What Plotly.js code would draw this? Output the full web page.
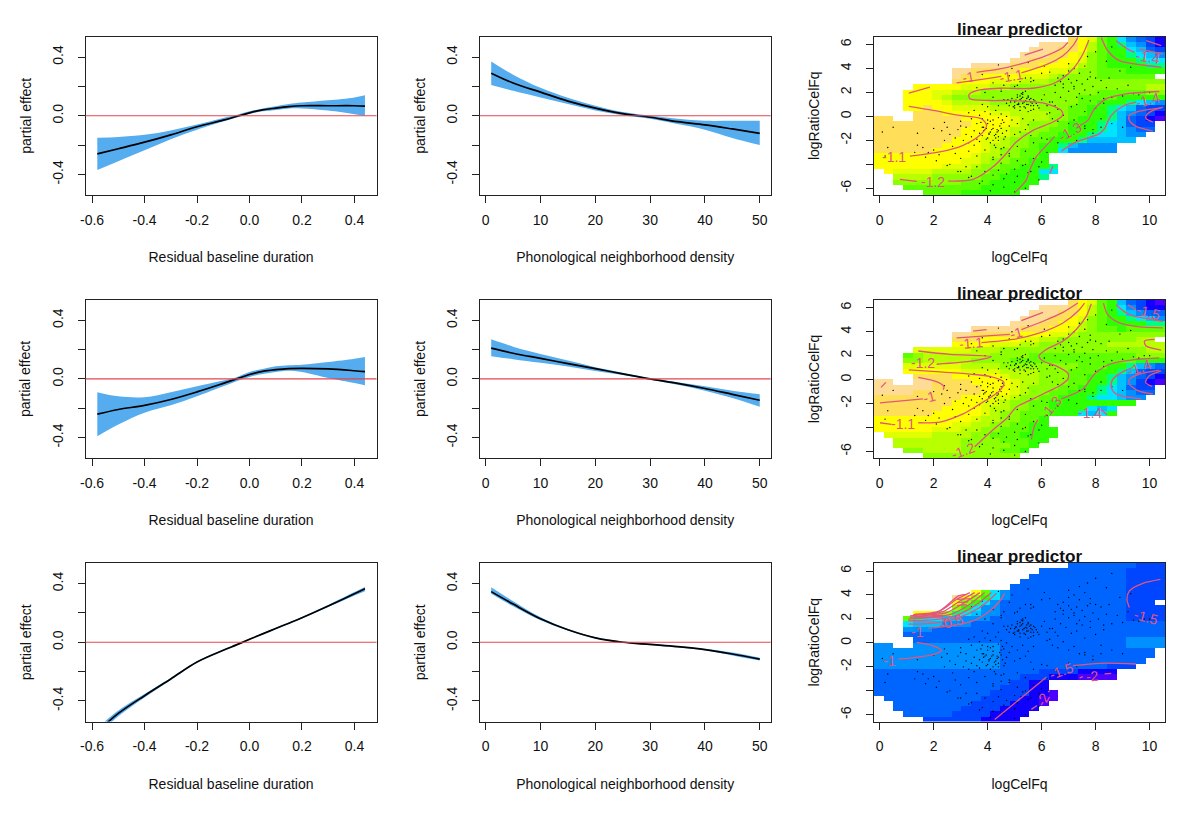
<!DOCTYPE html>
<html>
<head>
<meta charset="utf-8">
<script src="https://cdn.plot.ly/plotly-3.0.1.min.js"></script>
<style>html,body{margin:0;padding:0;background:#fff}</style>
</head>
<body>
<div id="graph" style="width:1200px;height:815px"></div>
<script>
// left column, residual baseline duration
var durX = [-0.58,-0.5,-0.4,-0.3,-0.2,-0.1,-0.05,0,0.05,0.1,0.15,0.2,0.3,0.4,0.44];
var dur1Fit = [-0.26,-0.225,-0.18,-0.13,-0.075,-0.03,-0.005,0.02,0.04,0.052,0.062,0.068,0.068,0.068,0.065];
var dur1Up = [-0.15,-0.145,-0.13,-0.10,-0.06,-0.015,0.005,0.03,0.05,0.065,0.08,0.09,0.105,0.125,0.14];
var dur1Lo = [-0.37,-0.31,-0.235,-0.16,-0.095,-0.04,-0.012,0.012,0.03,0.04,0.05,0.05,0.035,0.01,0.0];
var dur2Fit = [-0.24,-0.208,-0.18,-0.14,-0.088,-0.03,0,0.03,0.052,0.063,0.07,0.072,0.068,0.056,0.05];
var dur2Up = [-0.09,-0.118,-0.124,-0.09,-0.05,-0.01,0.012,0.048,0.068,0.086,0.093,0.097,0.115,0.138,0.149];
var dur2Lo = [-0.39,-0.31,-0.23,-0.18,-0.118,-0.05,-0.015,0.014,0.034,0.048,0.056,0.048,0.007,-0.027,-0.043];
var dur3Fit = [-0.61,-0.485,-0.364,-0.25,-0.135,-0.055,-0.018,0.02,0.057,0.094,0.13,0.167,0.247,0.33,0.364];
var dur3Up = [-0.585,-0.465,-0.352,-0.243,-0.13,-0.05,-0.014,0.024,0.062,0.099,0.135,0.172,0.254,0.342,0.377];
var dur3Lo = [-0.635,-0.505,-0.376,-0.257,-0.14,-0.06,-0.022,0.016,0.052,0.089,0.125,0.162,0.24,0.318,0.348];

// middle column, phonological neighborhood density
var densX = [1,5,10,15,20,25,30,35,40,45,50];
var dens1Fit = [0.29,0.223,0.161,0.1,0.052,0.014,-0.01,-0.04,-0.062,-0.09,-0.12];
var dens1Up = [0.37,0.28,0.19,0.122,0.068,0.025,0,-0.02,-0.034,-0.034,-0.034];
var dens1Lo = [0.21,0.17,0.125,0.08,0.036,0.004,-0.02,-0.057,-0.095,-0.152,-0.2];
var dens2Fit = [0.21,0.175,0.14,0.105,0.07,0.035,0,-0.03,-0.065,-0.105,-0.145];
var dens2Up = [0.27,0.22,0.17,0.125,0.08,0.042,0.005,-0.022,-0.05,-0.08,-0.105];
var dens2Lo = [0.155,0.135,0.11,0.085,0.055,0.027,-0.005,-0.04,-0.08,-0.13,-0.19];
var dens3Fit = [0.345,0.26,0.16,0.085,0.03,0,-0.015,-0.03,-0.05,-0.08,-0.115];
var dens3Up = [0.375,0.28,0.17,0.09,0.035,0.005,-0.01,-0.025,-0.045,-0.07,-0.105];
var dens3Lo = [0.33,0.245,0.15,0.08,0.025,-0.003,-0.02,-0.035,-0.055,-0.09,-0.125];

// right column: colour level of each surface cell, top row first
var levelColors = ['#4C00FF','#1000FF','#0045FF','#0064FF','#0090FF','#00C0FF','#00E5FF','#00FF80','#30FF00','#60FF00','#8CFF00','#B8FF00','#E0FF00','#FFFF00','#FFDE59','#FFDC96'];
var heatStart = [20,17,16,15,14,10,8,8,8,4,3,3,3,3,4,0,0,0,0,0,0,0,0,0,0,1,2,2,3,5];
var heat1 = [
[14,13,12,9,8,6,4,3,2,1],
[15,15,15,14,13,11,9,8,7,5,4,2,1],
[15,15,15,14,14,13,11,9,8,8,6,5,3,2],
[15,15,15,14,14,13,12,10,9,8,8,7,6,5,4],
[15,15,14,14,14,13,13,12,10,9,8,8,8,7,6,6],
[15,15,15,15,14,14,14,13,13,13,12,11,10,9,8,8,8,8,7,7],
[15,15,14,14,14,14,14,13,13,13,12,12,11,10,10,9,9,9,8,8,8,8],
[15,14,14,13,13,13,13,12,12,12,11,10,10,10,10,9,9,9,9,9,9],
[14,13,13,13,12,12,12,11,11,11,10,10,10,10,10,10,10,10,10,10,10,10],
[13,13,13,13,13,12,12,12,11,11,10,10,10,10,10,10,10,10,10,10,10,10,10,10,11,11],
[13,13,13,12,12,11,11,11,10,10,10,10,10,10,10,10,10,10,10,10,9,9,9,9,9,10,10],
[13,13,13,12,11,10,10,10,10,10,10,10,10,10,10,10,10,10,9,9,9,9,8,8,8,8,8],
[13,13,13,13,12,11,11,11,11,10,10,10,10,10,10,10,10,10,9,9,8,8,8,7,6,5,4],
[13,13,14,13,13,12,12,12,12,11,11,11,11,11,10,10,10,9,9,8,8,7,6,5,3,2,2],
[14,14,14,13,13,13,13,13,12,12,11,11,11,11,10,10,9,9,8,8,7,5,4,3,2,1],
[14,14,null,null,14,14,14,14,14,13,13,13,13,13,12,11,11,11,10,10,9,8,8,8,7,5,3,2,1,0],
[14,14,14,14,14,14,14,14,14,14,13,13,13,13,12,11,10,10,10,9,8,8,8,7,6,5,3,2,2],
[14,14,14,14,14,14,14,14,14,13,13,13,13,12,11,11,10,10,9,9,8,8,8,7,6,5,4,3,3],
[14,14,14,14,14,14,14,14,14,13,13,13,12,12,11,10,10,9,9,8,8,8,7,6,6,5,4,4],
[14,14,14,14,14,14,14,14,13,13,13,12,12,11,10,10,9,9,8,8,8,7,5,5,5,5,5],
[14,14,14,14,14,14,14,13,13,13,13,12,11,11,10,10,9,8,8,7,5,4,4,4,4],
[14,14,14,14,14,14,13,13,13,13,13,12,11,10,10,9,9,8,8,6,4,4,4,4,4],
[13,13,13,13,13,13,13,13,13,13,12,11,11,10,10,9,9,8],
[13,13,13,13,13,13,13,13,13,12,12,11,10,10,9,9,8,8],
[13,13,13,13,13,13,13,12,12,12,11,10,10,9,9,8,8,8,7],
[13,12,12,12,12,11,11,11,11,10,10,9,9,8,8,8,6,6],
[11,11,11,11,10,10,10,10,10,9,9,8,8,8,8,7],
[10,10,10,10,10,10,10,9,9,9,8,8,8,8,8],
[9,9,9,9,9,9,9,9,8,8,8,8,8],
[9,9,9,9,8,8,8,8,8,8]];
var heat2 = [
[14,13,12,9,8,5,3,2,1,0],
[15,15,15,14,13,11,9,8,6,4,2,1,1],
[15,15,15,14,14,13,11,9,8,7,5,4,3,3],
[15,15,15,14,14,13,12,10,9,8,8,7,6,5,4],
[15,15,15,14,14,13,13,11,10,9,8,8,8,8,7,7],
[15,15,15,15,15,14,14,14,13,13,12,11,10,9,9,8,9,9,9,9],
[15,15,14,14,14,14,14,13,13,13,12,12,11,10,10,10,10,10,10,10,10,10],
[14,14,14,13,13,13,13,12,12,11,11,10,10,10,10,10,10,10,10,11,11],
[13,13,13,13,12,12,12,11,11,10,10,10,10,10,10,10,11,11,11,11,11,11],
[12,12,12,12,12,12,11,11,11,10,10,10,10,10,10,10,10,10,10,10,10,10,10,10,11,11],
[9,10,11,11,11,11,11,11,11,10,10,10,10,9,9,9,9,9,9,9,9,9,9,9,10,10,10],
[10,10,11,11,11,11,11,10,10,10,10,9,9,9,9,9,9,9,9,9,9,9,9,9,8,8,8],
[12,12,12,12,12,12,11,11,11,11,10,10,10,10,10,10,10,10,9,9,9,8,8,7,5,4,3],
[13,13,13,13,13,13,12,12,12,12,11,11,11,11,10,10,10,9,9,9,8,8,7,5,3,2,2],
[14,14,14,14,13,13,13,13,13,12,11,11,11,10,10,10,9,9,8,8,7,5,4,3,2,1],
[15,15,null,null,15,15,14,14,14,14,13,13,13,13,12,11,11,10,10,10,9,9,8,8,7,5,4,2,1,0],
[15,15,15,15,15,15,14,14,14,14,14,13,13,13,12,11,10,10,10,9,9,8,8,7,6,5,3,2,2],
[15,15,15,15,14,14,14,14,14,14,14,13,13,13,12,11,10,10,9,9,8,8,8,7,6,5,4,3,3],
[14,14,14,14,14,14,14,14,14,13,13,13,12,12,11,10,10,9,9,8,8,8,7,6,6,5,4,4],
[14,14,14,14,14,14,14,14,13,13,13,12,12,11,10,10,9,9,8,8,8,8,8,8,8,8,8],
[14,14,14,14,14,14,14,13,13,13,13,12,11,11,10,10,9,9,8,8,8,8,6,5,6],
[14,14,14,14,14,14,13,13,13,13,13,12,11,10,10,9,9,9,8,8,8,6,5,6,8],
[13,13,13,13,13,13,13,13,13,13,12,11,11,10,10,9,9,8],
[13,13,13,13,13,13,13,13,12,12,11,11,10,10,9,9,8,8],
[13,13,13,13,13,13,12,12,12,11,11,10,10,9,9,9,8,8,8],
[12,12,12,12,12,11,11,11,11,10,10,9,9,9,8,8,8,8],
[11,11,11,11,11,11,11,10,10,10,10,9,9,9,8,8],
[11,11,11,11,11,11,11,10,10,10,10,10,9,9,8],
[10,10,11,11,11,11,10,10,10,10,9,9,8],
[10,10,10,10,10,10,10,10,10,10]];
var heat3 = [
[3,3,3,3,3,3,3,2,2,2],
[3,3,3,3,3,3,3,3,3,2,2,2,2],
[3,3,3,3,3,3,3,3,3,3,2,2,2,2],
[3,3,3,3,3,3,3,3,3,3,3,2,2,2,2],
[3,3,3,3,3,3,3,3,3,3,3,3,2,2,2,2],
[13,9,6,4,3,3,3,3,3,3,3,3,3,3,3,3,2,2,2,2],
[15,13,10,8,6,4,3,3,3,3,3,3,3,3,3,3,3,3,2,2,2,2],
[13,10,8,6,4,3,3,3,3,3,3,3,3,3,3,3,3,3,2,2,2],
[10,8,6,4,4,3,3,3,3,3,3,3,3,3,3,3,3,3,2,2,2,2],
[13,13,12,10,7,6,5,4,4,3,3,3,3,3,3,3,3,3,3,3,3,3,2,2,2,2],
[9,7,6,6,5,5,4,4,4,3,3,3,3,3,3,3,3,3,3,3,3,3,3,2,2,2,2],
[6,5,5,5,4,4,4,3,3,3,3,3,3,3,3,3,3,3,3,3,3,3,3,3,3,3,3],
[4,4,4,3,3,3,3,3,3,3,3,3,3,3,3,3,3,3,3,3,3,3,3,3,3,3,3],
[3,3,3,3,3,3,3,3,3,3,3,3,3,3,3,3,3,3,3,3,3,3,3,3,3,3,3],
[3,3,3,3,3,3,3,3,3,3,3,3,3,3,3,3,3,3,3,3,3,3,4,4,4,4],
[4,4,null,null,4,4,4,4,4,4,4,4,4,3,3,3,3,3,3,3,3,3,3,3,3,3,4,4,4,4],
[4,4,4,4,4,4,4,4,4,4,4,4,4,3,3,3,3,3,3,3,3,3,3,3,3,3,3,3,3],
[4,4,4,4,4,4,4,4,4,4,4,4,4,3,3,3,3,3,3,3,3,3,3,3,3,3,3,3,3],
[4,4,4,4,4,4,4,4,4,4,4,4,4,3,3,3,3,3,3,3,3,3,3,3,3,3,3,3],
[4,4,4,4,4,4,4,4,4,4,4,4,4,3,3,3,3,3,3,3,3,3,3,3,2,2,2],
[3,3,3,3,3,3,3,3,3,3,3,3,3,3,3,3,3,2,2,2,2,1,1,1,1],
[3,3,3,3,3,3,3,3,3,3,3,3,3,3,3,2,2,2,1,1,1,0,0,0,0],
[3,3,3,3,3,3,3,3,3,3,3,3,3,3,2,2,1,1],
[3,3,3,3,3,3,3,3,3,3,3,3,3,2,2,2,1,1],
[3,3,3,3,3,3,3,3,3,3,3,3,2,2,2,2,1,1,0],
[3,3,3,3,3,3,3,3,3,3,2,2,2,2,1,1,0,0],
[3,3,3,3,3,3,3,3,2,2,2,2,1,1,1,0],
[3,3,3,3,3,3,3,2,2,2,2,1,1,1,1],
[3,3,3,3,3,2,2,2,2,1,1,1,1],
[2,2,2,2,2,2,1,1,1,1]];

// data points on the surfaces
var dotX = [5.0,5.1,5.2,5.3,5.4,5.5,5.6,5.7,5.2,5.3,5.4,5.5,4.9,5.0,5.1,5.6,5.8,6.0,4.7,4.8,5.3,5.4,5.2,5.5,5.7,5.9,4.6,4.4,4.2,4.5,6.2,6.4,6.6,6.1,6.3,6.5,
3.4,3.6,3.8,4.0,4.2,4.4,4.6,4.8,3.5,3.7,3.9,4.1,4.3,4.5,4.7,3.2,3.4,3.6,3.8,4.0,4.2,4.4,4.6,3.0,3.3,3.5,3.7,3.9,4.1,4.3,4.5,4.7,4.9,5.1,5.3,5.5,5.7,5.0,5.2,5.4,5.6,
2.3,2.5,2.6,2.8,2.9,3.0,3.1,3.2,3.3,3.5,2.4,2.7,1.6,1.8,2.0,2.2,2.8,3.0,3.3,3.6,3.9,4.2,4.5,4.8,5.1,5.4,5.7,6.0,
7.0,7.2,7.4,7.6,7.8,8.0,8.2,7.1,7.3,7.5,7.7,7.9,6.8,7.0,7.2,7.4,7.6,7.8,6.6,6.8,7.0,7.3,7.5,7.8,8.1,8.4,6.5,6.7,7.0,7.4,7.7,8.0,
6.2,6.4,6.6,6.8,7.0,7.2,7.4,6.3,6.5,6.7,6.9,7.1,7.3,7.6,8.0,8.3,8.6,9.0,9.4,9.8,8.5,8.9,9.3,7.6,7.9,8.6,8.4,8.2,
4.2,4.5,4.8,5.1,5.4,5.7,6.0,5.0,5.3,5.6,5.9,6.2,4.4,4.7,5.1,5.5,5.9,3.6,3.9,4.2,4.6,5.0,5.4,2.6,3.0,3.4,3.8,4.2,4.6,5.0,
1.3,1.7,2.1,2.5,2.9,3.3,3.7,4.1,4.5,1.4,1.4,2.0,2.4,3.2,4.3,4.0,3.8,4.6,5.2,5.6,0.1,0.3,0.2,0.5,
6.2,6.6,7.0,7.3,7.6,7.9,8.2,8.6,9.0,6.8,7.2,7.8,8.3,8.8,9.2,9.6,10.0,
3.6,3.9,4.2,4.5,4.8,5.1,5.4,5.7,6.0,6.3,3.4,3.8,4.4,4.9,5.5,6.1,5.0,5.6,
5.05,5.15,5.25,5.35,5.45,5.55,5.65,5.0,5.1,5.2,5.35,5.45,5.6,5.75,4.85,4.95,5.15,5.25,5.5,5.7,5.85,4.75,5.05,5.3,5.45,5.6,
3.85,3.95,4.05,4.15,4.25,4.35,4.45,4.55,3.75,3.85,4.0,4.1,4.2,4.35,4.5,4.65,3.95,4.05,4.2,4.3,4.4,4.55,3.7,3.8,4.1,4.25,4.4,4.6];
var dotY = [1.2,1.0,1.4,1.1,1.3,1.0,1.2,0.9,0.8,1.6,0.7,1.7,1.5,0.7,1.8,1.5,1.1,1.4,1.1,0.9,2.0,2.1,0.5,0.4,0.6,0.7,1.4,0.9,1.6,2.1,0.9,1.2,0.6,1.8,0.3,2.0,
-0.2,-0.6,-0.9,-0.3,-0.7,-0.1,-0.5,-0.8,-1.2,-1.4,-1.1,-1.3,-1.5,-1.0,-1.2,-0.9,-1.7,-1.9,-1.6,-1.8,-2.0,-1.7,-1.9,-0.4,0.3,0.5,0.1,0.4,0.2,0.5,0.2,0.0,-0.3,-0.6,-0.2,-0.7,-0.3,-1.5,-1.3,-1.1,-1.6,
-1.2,-0.9,-1.5,-1.8,-1.1,-0.8,-2.0,-1.5,-2.2,-2.4,-2.0,-2.5,-2.6,-3.0,-2.8,-3.2,-3.1,-3.5,-2.9,-3.3,-2.8,-3.4,-2.7,-3.1,-2.5,-2.9,-2.2,-1.8,
3.8,4.0,3.6,4.2,3.7,3.2,3.0,2.8,3.0,2.7,3.1,2.5,2.4,2.1,2.3,1.9,2.2,1.8,3.2,3.4,3.1,1.6,1.5,1.3,2.0,2.4,2.6,2.9,4.4,4.7,5.0,5.4,
0.2,-0.2,-0.4,0.1,-0.6,-0.3,-0.9,1.2,0.9,1.6,1.3,0.8,1.0,0.4,0.7,1.1,1.6,1.7,1.9,2.0,3.2,3.8,4.1,-0.8,-1.1,5.8,4.6,-0.2,
-3.6,-3.9,-3.3,-3.7,-4.0,-3.5,-3.8,-4.4,-4.1,-4.6,-4.2,-3.0,-4.5,-4.8,-5.0,-4.7,-5.3,-4.2,-4.6,-4.9,-5.2,-5.5,-6.0,-4.0,-4.6,-5.0,-5.4,-5.7,-5.9,-6.3,
-3.0,-3.4,-3.7,-4.1,-4.6,-5.1,-5.6,-6.2,-3.2,-1.4,-2.4,-1.0,-0.5,-4.2,-2.6,0.8,1.0,2.6,2.9,3.2,-1.3,-2.6,-3.3,-0.9,
-1.9,-2.2,-1.7,-2.0,-1.0,-1.4,-0.9,-0.6,-0.9,2.7,2.5,3.3,1.5,2.3,2.6,1.8,2.0,
2.4,2.0,2.8,2.3,3.4,2.6,3.2,3.0,3.6,3.7,3.0,3.5,4.3,4.0,4.5,4.2,2.5,2.9,
1.3,1.1,1.5,1.2,1.0,1.4,1.1,0.9,1.6,1.7,0.8,1.5,0.9,1.3,1.2,0.8,1.0,1.9,1.6,1.4,0.9,1.4,1.35,1.85,1.25,0.5,
-1.2,-1.0,-1.4,-1.1,-1.6,-1.3,-0.8,-1.4,-0.5,-0.9,-0.6,-0.4,-0.3,-1.1,-0.6,-1.7,-1.9,-1.5,-1.0,-1.8,-1.2,-0.3,-2.1,-0.2,-2.2,-2.4,-2.0,-2.6];

// contour lines, one sub-array for each piece of line
var contour1X = [[5.37,6.05],[3.59,4.45,5.43,6.17,6.79,6.97],[2.85,3.65,4.51],[5.25,6.17,6.79,7.16,7.34],
[7.75,7.53,7.16,6.54,5.68,4.45,3.59,3.31,3.34,4.08,4.94,5.80,6.17,6.73,6.77,6.42,5.68,5.06,4.69,4.20,3.46,2.54],[1.37,0.75],[1.08,1.86],
[1.08,1.98,2.97,3.77,3.96,3.71,3.09,2.23,1.12],[5.00,5.43,5.56,5.80,6.30,6.48],[7.41,7.71,7.96,8.39,9.13,10.36],[6.30,6.42],
[6.73,7.28,8.15,8.33,8.58,9.07,9.50],[10.12,9.50,9.25,9.25,9.62,10.43],[10.12,9.87,9.87,10.12,10.49],[8.21,8.45,8.88,9.75,10.43],[8.76,9.19,9.44],[9.62,10.49],[9.87,10.43]];
var contour1Y = [[5.12,5.62],[3.68,3.96,4.52,5.07,5.76,6.18],[2.80,3.05,3.35],[3.63,4.32,5.07,5.90,6.59],
[6.37,5.21,3.96,2.85,2.35,2.35,2.16,1.83,1.47,1.33,1.33,1.19,1.05,0.50,0.08,-0.47,-1.16,-2.13,-3.10,-4.21,-5.26,-5.40],[-5.43,-5.26],[1.94,2.44],
[0.83,0.50,0.08,-0.19,-0.75,-1.58,-2.41,-2.96,-3.32],[-6.37,-5.32,-4.49,-3.38,-2.13,-1.66],[-0.75,-0.33,0.64,1.47,1.88,2.08],[-4.76,-4.13],
[-2.91,-2.13,-1.44,-1.02,0.08,0.91,1.19],[-1.22,-0.83,-0.33,0.08,0.44,0.72],[-0.47,-0.19,0.08,0.50,0.78],[6.59,5.48,4.65,4.29,4.10],[6.32,5.62,5.35],[5.62,5.21],[6.32,5.90]];
var contour2X = [[5.25,6.05],[3.46,3.96],[2.85,4.82],[5.25,6.05,6.79,7.34],[3.77,4.94,5.93,6.79,7.34,7.59],
[7.84,7.65,7.28,6.79,6.17,5.90,6.05,6.54,6.97,6.97,6.67,6.17,5.68,5.06,4.69,4.32,3.71,3.52],[1.43,2.60,4.14,3.46,2.11],
[1.08,2.23,3.34,4.08,4.60,4.45,3.71,3.09,2.23,1.43],[0.44,0.01],[1.43,2.17,2.38,2.35],[0.01,1.61],[0.05,0.23],
[5.62,5.74,5.87],[6.73,7.53,7.96,8.52,9.38,10.36],[8.21,8.42],[9.69,8.76,8.58,8.64,9.07,9.38],[10.12,9.56,9.25,9.25,9.62,10.36],
[10.09,9.85,9.99,10.43],[8.29,8.45,8.88,9.62,10.49],[8.76,9.25,10.12,10.49],[9.19,9.50],[10.18,9.81,9.87,10.43]];
var contour2Y = [[4.92,5.61],[4.04,4.18],[3.49,3.77],[4.18,4.87,5.61,6.39],[3.08,3.35,3.90,4.73,5.70,6.39],
[6.33,5.28,4.18,3.21,2.52,1.97,1.56,1.14,0.54,0.04,-0.51,-1.06,-1.61,-2.30,-3.27,-3.96,-5.20,-5.61],[2.39,2.11,1.92,1.56,1.28],
[0.81,0.65,0.46,0.26,-0.23,-0.92,-2.03,-2.86,-3.54,-3.60],[-3.74,-3.60],[0.18,-0.23,-0.59,-0.84],[-1.94,-1.61],[-0.65,-0.23],
[-4.98,-3.82,-3.35],[-1.61,-0.79,0.46,1.28,1.64,1.81],[-2.50,-2.94],[-1.61,-1.20,-0.65,0.04,0.73,1.01],[-1.20,-0.92,-0.37,0.04,0.46,0.79],
[-0.57,-0.23,0.32,0.73],[6.39,5.42,4.73,4.40,4.32],[6.25,5.42,5.01,4.87],[6.25,5.83],[3.35,3.21,2.80,2.47]];
var contour3X = [[1.37,1.98,2.29,2.04,1.37,0.69],[1.80,2.60,3.46,4.08,4.45,4.63],[1.06,1.98,2.85,3.71,4.33],[1.06,1.98,2.72,3.52,4.14],
[1.06,1.92,2.66,3.34,3.89],[1.12,1.86,2.48,3.15,3.71],[1.12,1.74,2.35,2.97,3.52],[1.24,2.23,2.85,3.34],[1.30,2.11,2.92,3.15],
[1.30,2.35],[1.30,2.35],[2.87,3.40],[2.87,3.28],[2.87,3.22],[10.40,9.75,9.25,9.16,9.25],[9.5,8.15,7.16],[6.17,5.43,4.26],[7.41,7.53],[8.33,8.58],[5.62,5.83],[6.24,6.30]];
var contour3Y = [[0.04,-0.24,-0.65,-0.93,-1.2,-1.34],[1.23,1.43,1.84,2.67,3.50,4.14],[1.56,1.65,2.04,2.95,4.14],[1.84,1.93,2.20,3.09,4.2],
[1.98,2.15,2.40,3.23,4.2],[2.12,2.34,2.53,3.37,4.2],[2.26,2.40,2.62,3.50,4.2],[2.34,2.67,3.64,4.2],[2.40,2.53,3.92,4.06],
[2.20,2.31],[2.06,2.17],[3.64,3.70],[3.37,3.42],[3.14,3.20],[5.30,4.97,4.34,3.64,2.95],[-1.76,-1.70,-1.90],[-2.87,-4.25,-6.39],[-2.92,-2.81],[-2.59,-2.54],[-5.55,-5.22],[-4.11,-3.98]];

// contour labels
var label1Text = ['-1','-1.1','-1.1','-1.2','-1.3','-1.4','-1.4'];
var label1X = [3.28,4.88,0.53,1.98,7.04,9.93,9.93];
var label1Y = [3.32,3.41,-3.38,-5.51,-1.3,4.99,1.33];
var label1Angle = [-10,-10,0,0,-30,10,-15];
var label2Text = ['-1','-1.1','-1.2','-1','-1.1','-1.2','-1.3','-1.4','-1.4','-1.5'];
var label2X = [5.06,3.40,1.61,1.84,0.87,3.09,6.36,7.78,9.6,9.93];
var label2Y = [3.9,3.02,1.37,-1.42,-3.74,-5.95,-2.3,-2.77,1.01,5.61];
var label2Angle = [-15,-5,0,-15,0,-20,-50,0,-20,15];
var label3Text = ['-1','-1','-0.5','-1.5','-1.5','-2','-2'];
var label3X = [0.35,1.39,2.66,9.87,6.73,7.9,6.05];
var label3Y = [-1.54,0.93,1.76,2.2,-2.31,-2.76,-4.67];
var label3Angle = [0,0,-15,15,-20,-5,-60];

var durTicks = [-0.6,-0.4,-0.2,0,0.2,0.4];
var durTickText = ['-0.6','-0.4','-0.2','0.0','0.2','0.4'];
var densTicks = [0,10,20,30,40,50];
var effectTicks = [-0.4,-0.2,0,0.2,0.4];
var effectTickText = ['-0.4','','0.0','','0.4'];
var celTicks = [0,2,4,6,8,10];
var ratioTicks = [-6,-4,-2,0,2,4,6];
var ratioTickText = ['-6','','-2','0','2','4','6'];

var rowTops = [36.5,299.7,563];
var colLefts = [85.5,479.7,874];
var panelW = 291, panelH = 158.5;
var fontName = '"Liberation Sans", Arial, sans-serif';
var ribbonColor = 'rgb(85,172,238)';
var contourColor = '#E2567C';

var data = [];
var layout = {
  width: 1200, height: 815,
  margin: {l: 0, r: 0, t: 0, b: 0},
  paper_bgcolor: 'white', plot_bgcolor: 'white',
  showlegend: false,
  font: {family: fontName, size: 14, color: '#111'},
  shapes: [], annotations: []
};

function axisStyle(range, ticks, text, title, isY) {
  return {
    range: range,
    tickmode: 'array', tickvals: ticks, ticktext: text,
    tickangle: isY ? -90 : 0,
    ticks: 'outside', ticklen: 7, tickwidth: 1, tickcolor: '#222',
    ticklabelstandoff: isY ? 9 : 5,
    showgrid: false, zeroline: false,
    showline: true, mirror: true, linecolor: '#222', linewidth: 1,
    title: {text: title, standoff: isY ? 15 : 25, font: {size: 14}}
  };
}

function addPanel(n, row, col, xa, ya) {
  var name = n === 1 ? '' : n;
  xa.domain = [colLefts[col] / 1200, (colLefts[col] + panelW) / 1200];
  ya.domain = [1 - (rowTops[row] + panelH) / 815, 1 - rowTops[row] / 815];
  xa.anchor = 'y' + name;
  ya.anchor = 'x' + name;
  layout['xaxis' + name] = xa;
  layout['yaxis' + name] = ya;
  return {x: 'x' + name, y: 'y' + name};
}

function addRibbon(ax, xs, fit, up, lo) {
  data.push({x: xs, y: lo, xaxis: ax.x, yaxis: ax.y, mode: 'lines', line: {color: ribbonColor, width: 0, shape: 'spline'}, type: 'scatter'});
  data.push({x: xs, y: up, xaxis: ax.x, yaxis: ax.y, mode: 'lines', line: {color: ribbonColor, width: 0, shape: 'spline'}, fill: 'tonexty', fillcolor: ribbonColor, type: 'scatter'});
  data.push({x: xs, y: fit, xaxis: ax.x, yaxis: ax.y, mode: 'lines', line: {color: 'black', width: 1.7, shape: 'spline'}, type: 'scatter'});
  layout.shapes.push({type: 'line', xref: ax.x + ' domain', yref: ax.y, x0: 0, x1: 1, y0: 0, y1: 0, line: {color: '#E2474F', width: 1.2}, layer: 'above'});
}

function buildZ(rows) {
  var z = [];
  for (var r = rows.length - 1; r >= 0; r--) {
    var line = [];
    for (var c = 0; c < 30; c++) line.push(null);
    rows[r].forEach(function(v, i) { line[heatStart[r] + i] = v; });
    z.push(line);
  }
  return z;
}

function addSurface(ax, rows, lineX, lineY, labText, labX, labY, labAngle) {
  var scale = levelColors.map(function(c, i) { return [i / (levelColors.length - 1), c]; });
  data.push({type: 'heatmap', z: buildZ(rows), xaxis: ax.x, yaxis: ax.y,
    x0: -0.03, dx: 0.3593, y0: -6.34, dy: 0.441,
    zmin: 0, zmax: levelColors.length - 1, colorscale: scale, showscale: false});
  data.push({type: 'scatter', mode: 'markers', x: dotX, y: dotY, xaxis: ax.x, yaxis: ax.y, marker: {color: 'black', size: 1.4}});
  lineX.forEach(function(xs, i) {
    data.push({type: 'scatter', mode: 'lines', x: xs, y: lineY[i], xaxis: ax.x, yaxis: ax.y,
      line: {color: contourColor, width: 1.3, shape: 'spline', smoothing: 0.8}});
  });
  labText.forEach(function(t, i) {
    layout.annotations.push({text: t, x: labX[i], y: labY[i], xref: ax.x, yref: ax.y, showarrow: false,
      textangle: labAngle[i], font: {size: 14, color: contourColor}});
  });
  layout.annotations.push({text: '<b>linear predictor</b>', x: 0.5, y: 1, xref: ax.x + ' domain', yref: ax.y + ' domain',
    xanchor: 'center', yanchor: 'middle', yshift: 7, showarrow: false, font: {size: 17.2, color: '#111'}});
}

var durFits = [dur1Fit, dur2Fit, dur3Fit], durUps = [dur1Up, dur2Up, dur3Up], durLos = [dur1Lo, dur2Lo, dur3Lo];
var densFits = [dens1Fit, dens2Fit, dens3Fit], densUps = [dens1Up, dens2Up, dens3Up], densLos = [dens1Lo, dens2Lo, dens3Lo];
var heats = [heat1, heat2, heat3];
var lineXs = [contour1X, contour2X, contour3X], lineYs = [contour1Y, contour2Y, contour3Y];
var labTexts = [label1Text, label2Text, label3Text], labXs = [label1X, label2X, label3X];
var labYs = [label1Y, label2Y, label3Y], labAngles = [label1Angle, label2Angle, label3Angle];

for (var r = 0; r < 3; r++) {
  var ax = addPanel(r * 3 + 1, r, 0,
    axisStyle([-0.625, 0.484], durTicks, durTickText, 'Residual baseline duration', false),
    axisStyle([-0.54, 0.54], effectTicks, effectTickText, 'partial effect', true));
  addRibbon(ax, durX, durFits[r], durUps[r], durLos[r]);

  ax = addPanel(r * 3 + 2, r, 1,
    axisStyle([-1.1, 52], densTicks, densTicks.map(String), 'Phonological neighborhood density', false),
    axisStyle([-0.54, 0.54], effectTicks, effectTickText, 'partial effect', true));
  addRibbon(ax, densX, densFits[r], densUps[r], densLos[r]);

  ax = addPanel(r * 3 + 3, r, 2,
    axisStyle([-0.21, 10.57], celTicks, celTicks.map(String), 'logCelFq', false),
    axisStyle([-6.56, 6.67], ratioTicks, ratioTickText, 'logRatioCelFq', true));
  addSurface(ax, heats[r], lineXs[r], lineYs[r], labTexts[r], labXs[r], labYs[r], labAngles[r]);
}

Plotly.newPlot('graph', data, layout, {staticPlot: true});
</script>
</body>
</html>
